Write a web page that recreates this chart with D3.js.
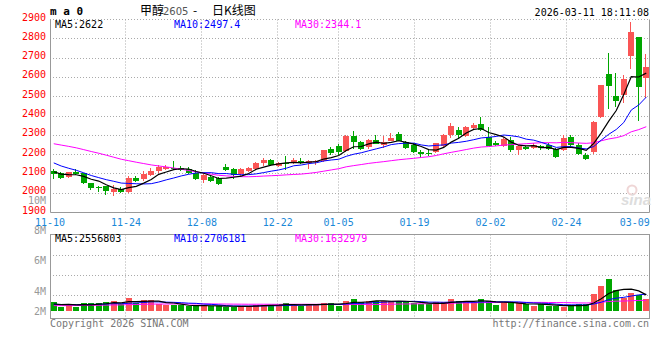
<!doctype html>
<html lang="zh">
<head>
<meta charset="UTF-8">
<script src="https://cdn.jsdelivr.net/npm/d3@7"></script>
<title>甲醇2605 - 日K线图</title>
<style>
    body { margin: 0; background: #fff; }
    text { font-family: "DejaVu Sans Mono", monospace; font-size: 10px; }
</style>
</head>
<body>
<div id="chart"></div>
<script>
    // 80 trading days, 2025-11-10 .. 2026-03-11
    const opens = [2113, 2103, 2083, 2110, 2103, 2051, 2032, 2035, 2008, 2020,
        2004, 2077, 2072, 2094, 2114, 2123, 2132, 2132, 2127, 2106,
        2068, 2084, 2077, 2135, 2127, 2097, 2113, 2123, 2154, 2174,
        2143, 2157, 2157, 2169, 2157, 2160, 2166, 2229, 2243, 2220,
        2297, 2265, 2237, 2277, 2250, 2273, 2308, 2263, 2251, 2214,
        2210, 2214, 2243, 2303, 2328, 2297, 2340, 2359, 2291, 2260,
        2243, 2277, 2222, 2239, 2234, 2243, 2251, 2229, 2226, 2289,
        2251, 2198, 2212, 2396, 2616, 2502, 2511, 2709, 2807, 2596];
    const highs = [2123, 2108, 2112, 2127, 2106, 2055, 2035, 2038, 2041, 2030,
        2089, 2089, 2113, 2130, 2145, 2145, 2166, 2140, 2135, 2120,
        2100, 2095, 2085, 2150, 2130, 2128, 2135, 2160, 2180, 2178,
        2160, 2191, 2180, 2180, 2174, 2172, 2225, 2240, 2255, 2300,
        2323, 2272, 2283, 2300, 2297, 2310, 2318, 2270, 2258, 2222,
        2226, 2262, 2305, 2362, 2345, 2348, 2362, 2396, 2345, 2272,
        2290, 2290, 2250, 2245, 2258, 2250, 2258, 2234, 2303, 2300,
        2260, 2210, 2375, 2562, 2724, 2622, 2615, 2887, 2807, 2721];
    const lows = [2072, 2075, 2080, 2095, 2046, 2015, 2004, 1990, 1986, 2000,
        2000, 2058, 2062, 2088, 2105, 2118, 2120, 2113, 2100, 2068,
        2055, 2058, 2040, 2115, 2072, 2085, 2108, 2118, 2140, 2140,
        2138, 2120, 2150, 2150, 2123, 2148, 2160, 2200, 2200, 2215,
        2229, 2225, 2230, 2255, 2234, 2268, 2270, 2228, 2210, 2183,
        2195, 2210, 2240, 2286, 2283, 2290, 2335, 2320, 2243, 2243,
        2240, 2215, 2200, 2225, 2228, 2225, 2225, 2183, 2217, 2245,
        2198, 2170, 2205, 2390, 2434, 2448, 2465, 2645, 2376, 2491];
    const closes = [2097, 2078, 2108, 2100, 2051, 2025, 2030, 2012, 2020, 2004,
        2077, 2063, 2097, 2114, 2137, 2137, 2127, 2119, 2106, 2072,
        2092, 2063, 2048, 2118, 2092, 2123, 2130, 2157, 2174, 2145,
        2154, 2154, 2174, 2157, 2166, 2166, 2222, 2209, 2212, 2297,
        2263, 2229, 2277, 2256, 2265, 2288, 2273, 2234, 2212, 2204,
        2208, 2260, 2303, 2349, 2303, 2345, 2354, 2325, 2246, 2248,
        2282, 2222, 2246, 2229, 2251, 2232, 2229, 2188, 2286, 2251,
        2205, 2178, 2371, 2559, 2554, 2480, 2590, 2836, 2550, 2655];
    const volumes = [1410000, 670000, 1090000, 670000, 1200000, 1200000, 1200000, 1410000, 1560000, 1050000,
        2030000, 1200000, 1720000, 1720000, 1050000, 890000, 890000, 890000, 780000, 780000,
        890000, 780000, 780000, 630000, 630000, 780000, 780000, 1000000, 1000000, 850000,
        1000000, 1200000, 1000000, 800000, 1050000, 950000, 1300000, 1200000, 830000, 1560000,
        1870000, 1360000, 1560000, 1560000, 1560000, 1560000, 1560000, 1360000, 1200000, 1050000,
        1050000, 1360000, 1360000, 1870000, 1560000, 1360000, 1360000, 1870000, 1560000, 940000,
        1200000, 1200000, 1200000, 1050000, 830000, 1050000, 830000, 830000, 670000, 830000,
        1050000, 1050000, 2660000, 3900000, 5000000, 3280000, 2080000, 2860000, 2500000, 1870000];

    // the 29 sessions before 11-10, only used so the moving averages start at the left edge
    const earlierCloses = [2290, 2310, 2325, 2330, 2318, 2300, 2312, 2335, 2320, 2305,
        2296, 2310, 2322, 2300, 2288, 2295, 2310, 2300, 2285, 2270,
        2240, 2225, 2205, 2180, 2165, 2140, 2118, 2105, 2095];
    const earlierVolumes = [700000, 800000, 650000, 750000, 900000, 700000, 600000, 800000, 750000, 700000,
        850000, 700000, 650000, 800000, 750000, 700000, 700000, 800000, 750000, 650000,
        1000000, 1100000, 950000, 1050000, 950000, 1100000, 900000, 1050000, 1000000];

    const tickIndex = [0, 10, 20, 30, 38, 48, 58, 68, 77];
    const tickLabels = ["11-10", "11-24", "12-08", "12-22", "01-05", "01-19", "02-02", "02-24", "03-09"];
    const priceTicks = [1900, 2000, 2100, 2200, 2300, 2400, 2500, 2600, 2700, 2800, 2900];
    const volTicks = [10, 8, 6, 4, 2];
    const maPeriods = [5, 10, 30];
    const maColors = ["#000000", "#0000ff", "#ff00ff"];
    const priceLegend = ["MA5:2622", "MA10:2497.4", "MA30:2344.1"];
    const volLegend = ["MA5:2556803", "MA10:2706181", "MA30:1632979"];

    const RED = "#fa5555", GREEN = "#00a600", GRID = "#aaaaaa", FRAME = "#999999";
    const left = 50, right = 650;
    const crisp = v => Math.floor(v) + 0.5;

    const svg = d3.select("#chart").append("svg")
        .attr("width", 660)
        .attr("height", 360);

    const n = closes.length;
    const x = d3.scaleBand().domain(d3.range(n)).range([left, right]);
    const xc = i => x(i) + x.bandwidth() / 2;
    const xGrid = d3.scaleLinear().domain([0, n - 1]).range([left, right]);
    const y = d3.scaleLinear().domain([1900, 2900]).range([212.5, 19.5]);
    const yVol = d3.scaleLinear().domain([0, 10000000]).range([311, 247]);
    const yVolLabel = d3.scaleLinear().domain([2, 4, 10]).range([311, 291, 200]);

    function movingAvg(earlier, values, p) {
        const all = earlier.concat(values);
        const off = earlier.length;
        return values.map((v, i) => d3.mean(all.slice(off + i - p + 1, off + i + 1)));
    }

    // ---- grids ----
    const grid = svg.append("g")
        .attr("stroke", GRID)
        .attr("stroke-dasharray", "1,2");
    grid.selectAll(".hp").data(priceTicks.slice(1)).join("line")
        .attr("x1", left).attr("x2", right)
        .attr("y1", d => crisp(y(d))).attr("y2", d => crisp(y(d)));
    const innerTicks = tickIndex.filter(t => t > 0 && t < 70);
    grid.selectAll(".vp").data(innerTicks).join("line")
        .attr("x1", d => crisp(xGrid(d))).attr("x2", d => crisp(xGrid(d)))
        .attr("y1", 19.5).attr("y2", 212.5);
    grid.selectAll(".vv").data(innerTicks).join("line")
        .attr("x1", d => crisp(xGrid(d))).attr("x2", d => crisp(xGrid(d)))
        .attr("y1", 234.5).attr("y2", 318.5);
    grid.selectAll(".hv").data([255, 275, 295]).join("line")
        .attr("x1", left).attr("x2", right)
        .attr("y1", d => d + 0.5).attr("y2", d => d + 0.5);

    // ---- frames ----
    const frame = svg.append("g").attr("stroke", FRAME).attr("fill", "none");
    frame.append("path").attr("d", `M50.5,19.5V212.5H649.5V19.5`);
    frame.append("rect").attr("x", 50.5).attr("y", 234.5).attr("width", 599).attr("height", 84);

    // ---- candles ----
    svg.append("clipPath").attr("id", "clipMain")
        .append("rect").attr("x", 51).attr("y", 19).attr("width", 598).attr("height", 193);
    const main = svg.append("g").attr("clip-path", "url(#clipMain)");
    const candles = main.selectAll(".k").data(d3.range(n)).join("g")
        .attr("fill", i => closes[i] >= opens[i] ? RED : GREEN)
        .attr("stroke", i => closes[i] >= opens[i] ? RED : GREEN);
    candles.append("line")
        .attr("x1", i => Math.round(xc(i) - 3) + 2.5)
        .attr("x2", i => Math.round(xc(i) - 3) + 2.5)
        .attr("y1", i => Math.round(y(highs[i])))
        .attr("y2", i => Math.round(y(lows[i])));
    candles.append("rect")
        .attr("stroke", "none")
        .attr("x", i => Math.round(xc(i) - 3))
        .attr("width", 6)
        .attr("y", i => Math.round(y(Math.max(opens[i], closes[i]))))
        .attr("height", i => Math.max(1, Math.round(y(Math.min(opens[i], closes[i]))) - Math.round(y(Math.max(opens[i], closes[i])))));

    const line = d3.line().x((d, i) => xc(i)).y(d => y(d));
    maPeriods.slice().reverse().forEach((p, k) => {
        const idx = maPeriods.length - 1 - k;
        main.append("path")
            .attr("d", line(movingAvg(earlierCloses, closes, p)))
            .attr("fill", "none")
            .attr("stroke", maColors[idx])
            .attr("stroke-width", idx === 0 ? 1.2 : 1);
    });

    // ---- volume ----
    const vol = svg.append("g");
    vol.selectAll("rect").data(d3.range(n)).join("rect")
        .attr("x", i => Math.round(xc(i) - 3))
        .attr("width", 6)
        .attr("y", i => Math.round(yVol(volumes[i])))
        .attr("height", i => 311 - Math.round(yVol(volumes[i])))
        .attr("fill", i => closes[i] >= opens[i] ? RED : GREEN);
    const vline = d3.line().x((d, i) => xc(i)).y(d => yVol(d));
    maPeriods.slice().reverse().forEach((p, k) => {
        const idx = maPeriods.length - 1 - k;
        vol.append("path")
            .attr("d", vline(movingAvg(earlierVolumes, volumes, p)))
            .attr("fill", "none")
            .attr("stroke", maColors[idx])
            .attr("stroke-width", idx === 0 ? 1.2 : 1);
    });

    // ---- axis text ----
    svg.append("g").selectAll("text").data(priceTicks).join("text")
        .attr("x", 46).attr("y", d => y(d) - 2.5).attr("dy", "0.35em")
        .attr("text-anchor", "end").attr("fill", "#ff0000")
        .text(d => d);
    svg.append("g").selectAll("text").data(volTicks).join("text")
        .attr("x", 46).attr("y", d => yVolLabel(d)).attr("dy", "0.35em")
        .attr("text-anchor", "end").attr("fill", "#999")
        .text(d => d + "M");
    svg.append("g").selectAll("text").data(tickIndex).join("text")
        .attr("x", d => xGrid(d)).attr("y", 222).attr("dy", "0.35em")
        .attr("text-anchor", "middle").attr("fill", "#1a88d8")
        .text((d, i) => tickLabels[i]);

    // ---- legends ----
    const legendX = [55, 174, 295];
    svg.append("g").selectAll("text").data(priceLegend).join("text")
        .attr("x", (d, i) => legendX[i]).attr("y", 24).attr("dy", "0.35em")
        .attr("fill", (d, i) => maColors[i]).text(d => d);
    svg.append("g").selectAll("text").data(volLegend).join("text")
        .attr("x", (d, i) => legendX[i]).attr("y", 238.5).attr("dy", "0.35em")
        .attr("fill", (d, i) => maColors[i]).text(d => d);

    // ---- header ----
    svg.append("text").attr("x", 50).attr("y", 11).attr("dy", "0.35em")
        .style("font-weight", "bold").style("font-size", "11px").text("m a 0");
    const title = svg.append("text").attr("y", 11).attr("dy", "0.35em")
        .style("font-family", "'Noto Sans CJK SC', sans-serif").style("font-size", "12px");
    title.append("tspan").attr("x", 140).text("甲醇");
    title.append("tspan").attr("x", 163).attr("fill", "#555")
        .style("font-family", "'DejaVu Sans', sans-serif").style("font-size", "10px").text("2605");
    title.append("tspan").attr("x", 193).text("-");
    title.append("tspan").attr("x", 212).text("日K线图");
    svg.append("text").attr("x", 649).attr("y", 12).attr("dy", "0.35em")
        .attr("text-anchor", "end").text("2026-03-11 18:11:08");

    // ---- footer ----
    svg.append("text").attr("x", 50).attr("y", 323.5).attr("dy", "0.35em")
        .attr("fill", "#777").text("Copyright 2026 SINA.COM");
    svg.append("text").attr("x", 649).attr("y", 323.5).attr("dy", "0.35em")
        .attr("text-anchor", "end").attr("fill", "#777").text("http://finance.sina.com.cn");

    // sina watermark
    svg.append("circle").attr("cx", 632).attr("cy", 190).attr("r", 4.5)
        .attr("fill", "none").attr("stroke", "#efd6d6").attr("stroke-width", 2);
    svg.append("text").attr("x", 636).attr("y", 205).attr("text-anchor", "middle")
        .style("font-family", "'Liberation Sans', sans-serif").style("font-size", "15px")
        .style("font-weight", "bold").style("font-style", "italic")
        .attr("fill", "#dddddd").text("sina");
</script>
</body>
</html>
